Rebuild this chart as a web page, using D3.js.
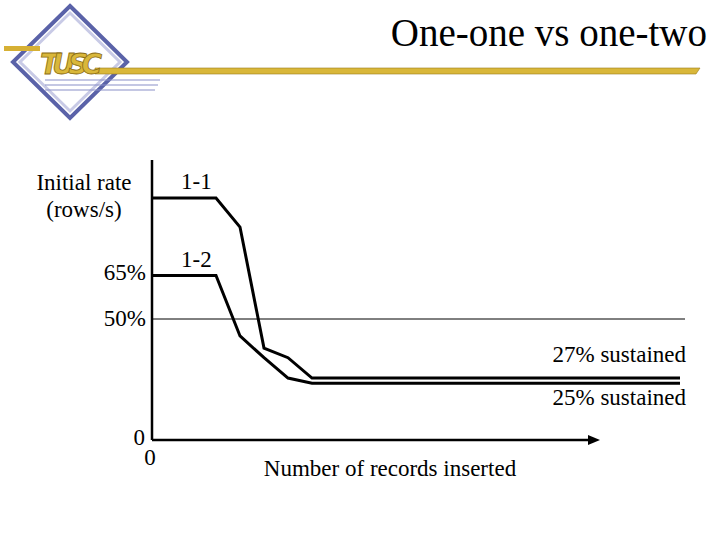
<!DOCTYPE html>
<html><head><meta charset="utf-8">
<script src="https://cdn.jsdelivr.net/npm/d3@7"></script>
<style>body{margin:0;background:#fff}</style>
</head><body>
<script>
// records inserted (arbitrary units) and rate (% of 1-1 initial rate)
const records = [0, 8, 11, 14, 17, 20, 66];
const rate11 = [100, 100, 88, 38, 34, 25.6, 25.6];
const rate12 = [68, 68, 43, 34, 25.6, 23.5, 23.5];
const refLevel = 50;
const serif = "'Liberation Serif', 'DejaVu Serif', serif";

const svg = d3.select("body").append("svg").attr("width", 720).attr("height", 540)
  .attr("font-family", serif);

// logo
const g = svg.append("g");
g.append("path").attr("d", "M70,6 L127,62 L70,118 L13,62 Z")
  .attr("fill", "#fff").attr("stroke", "#5a62a8").attr("stroke-width", 4);
g.append("path").attr("d", "M70,13 L120,62 L70,111 L20,62 Z")
  .attr("fill", "none").attr("stroke", "#c8cae6").attr("stroke-width", 3);
[[80, 160], [85, 158], [90, 155]].forEach(([y, x2]) =>
  g.append("line").attr("x1", 45).attr("x2", x2).attr("y1", y).attr("y2", y)
    .attr("stroke", "#8a90c8").attr("stroke-width", 1.2));
g.append("path").attr("d", "M4,46 L40,46 L40,51 L4,51 Z").attr("fill", "#d6b034");
g.append("path").attr("d", "M95,68 L700,68 L696,74 L95,74 Z").attr("fill", "#d9b73a").attr("stroke", "#9c7d1c").attr("stroke-width", 0.6);
g.append("text").attr("x", 40).attr("y", 74).attr("font-size", 28).attr("font-style", "italic")
  .attr("font-weight", "bold").attr("fill", "#d9b73a").attr("stroke", "#8a6c14").attr("stroke-width", 0.8)
  .attr("textLength", 62).attr("font-family", "'DejaVu Sans', sans-serif").text("TUSC");

svg.append("text").attr("x", 707).attr("y", 46).attr("text-anchor", "end")
  .attr("font-size", 39).text("One-one vs one-two");

// chart
const x = d3.scaleLinear().domain([0, 56]).range([152, 600]);
const y = d3.scaleLinear().domain([0, 100]).range([440, 198]);

svg.append("line").attr("x1", x(0)).attr("x2", x(0)).attr("y1", 160).attr("y2", y(0))
  .attr("stroke", "#000").attr("stroke-width", 2.5);
svg.append("line").attr("x1", x(0)).attr("x2", x(56) - 8).attr("y1", y(0)).attr("y2", y(0))
  .attr("stroke", "#000").attr("stroke-width", 2.5);
svg.append("path").attr("d", `M${x(56)},${y(0)} l-12,-5 l0,10 Z`).attr("fill", "#000");

svg.append("line").attr("x1", x(0)).attr("x2", 685).attr("y1", y(refLevel)).attr("y2", y(refLevel))
  .attr("stroke", "#000").attr("stroke-width", 1);

const line = d3.line().x(d => x(d[0])).y(d => y(d[1]));
[rate11, rate12].forEach(r =>
  svg.append("path").attr("d", line(records.map((v, i) => [v, r[i]])))
    .attr("fill", "none").attr("stroke", "#000").attr("stroke-width", 3));

const t = (tx, ty, s, anchor = "start") => svg.append("text").attr("x", tx).attr("y", ty)
  .attr("font-size", 23).attr("text-anchor", anchor).text(s);
t(84, 190, "Initial rate", "middle");
t(84, 217, "(rows/s)", "middle");
t(181, 189, "1-1");
t(181, 267, "1-2");
t(146, 280, "65%", "end");
t(146, 326, "50%", "end");
t(686, 362, "27% sustained", "end");
t(686, 405, "25% sustained", "end");
t(145, 445, "0", "end");
t(150, 465, "0", "middle");
t(390, 476, "Number of records inserted", "middle");
</script>
</body></html>
